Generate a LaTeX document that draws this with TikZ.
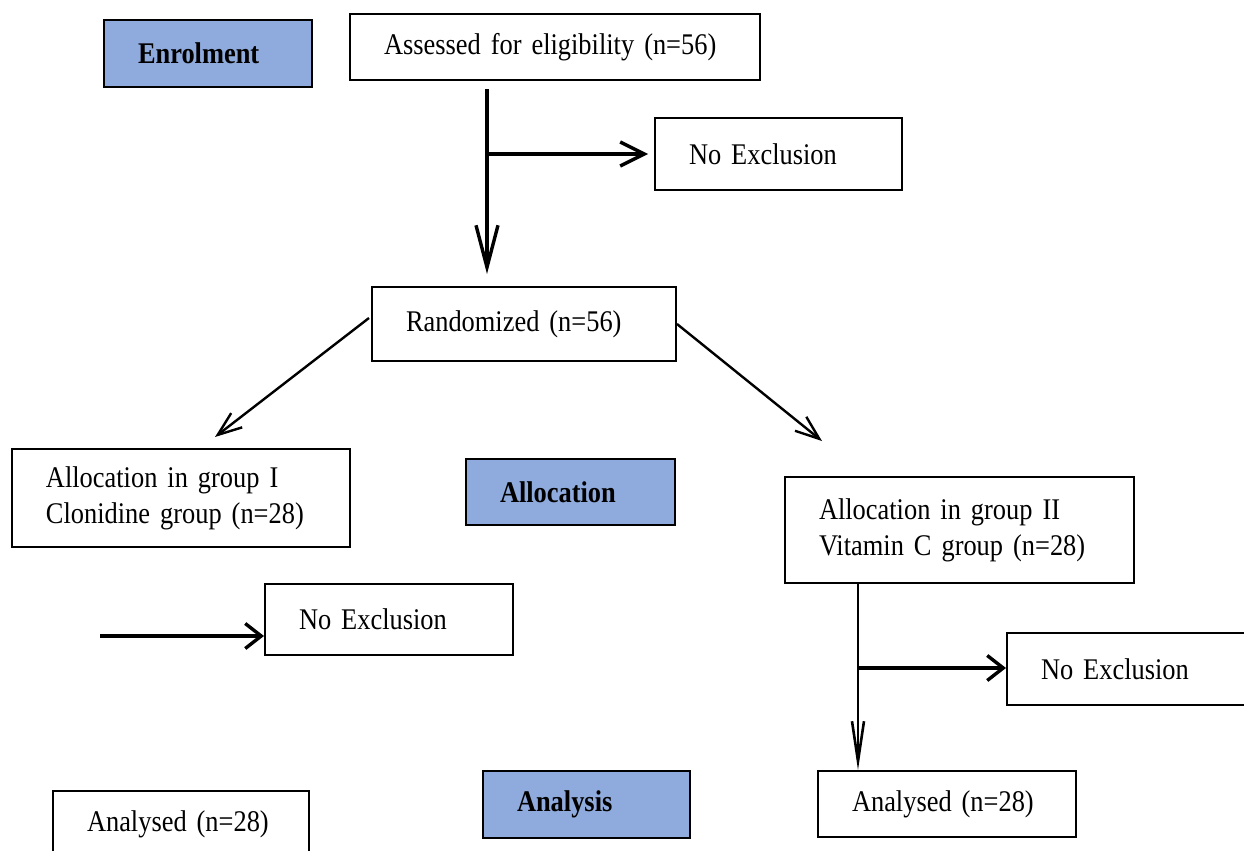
\documentclass[tikz,border=0pt]{standalone}
\usepackage{fontspec}
\setmainfont[FakeStretch=0.88, WordSpace=0.8]{Liberation Serif}
\usepackage{xcolor}
\usepackage{tikz}
\usetikzlibrary{arrows.meta, positioning, calc}
\definecolor{stage}{RGB}{143,170,220}
\tikzset{
    box/.style={rectangle, draw, line width=1pt, align=left, inner xsep=17pt, inner ysep=0pt, font=\fontsize{15}{18}\selectfont},
    phase/.style={box, fill=stage, font=\fontsize{15}{18}\selectfont\bfseries},
    flow/.style={-{Straight Barb[length=21pt, width=11pt]}, line width=1.7pt},
    branch/.style={-{Straight Barb[length=12pt, width=12pt]}, line width=1.7pt},
    split/.style={-{Straight Barb[length=12pt, width=9pt]}, line width=1.2pt}
}
\begin{document}
\begin{tikzpicture} [
    x=0.5pt, y=-0.5pt
]
    \useasboundingbox (0,0) rectangle (1244,851);

    % Enrolment
    \node[phase, text width=70pt, minimum height=33.5pt] (enrol) at (208,53.5) {Enrolment};
    \node[box, text width=171pt, minimum height=33pt] (assess) at (555,47) {Assessed for eligibility (n=56)};
    \node[box, text width=89.5pt, minimum height=36pt] (excl_top) at (778.5,154) {No Exclusion};

    % Randomization
    \node[box, text width=118pt, minimum height=37pt] (random) at (524,324) {Randomized (n=56)};

    % Allocation
    \node[box, text width=135pt, minimum height=49pt] (group_one) at (181,498) {Allocation in group I\\Clonidine group (n=28)};
    \node[phase, text width=70.5pt, minimum height=33pt] (alloc) at (570.5,492) {Allocation};
    \node[box, text width=140.5pt, minimum height=53pt] (group_two) at (959.5,530) {Allocation in group II\\Vitamin C group (n=28)};

    % Follow-up exclusions
    \node[box, text width=90pt, minimum height=35.5pt] (excl_one) at (389,619.5) {No Exclusion};
    \node[box, text width=89.5pt, minimum height=36pt] (excl_two) at (1130.5,669) {No Exclusion};

    % Analysis
    \node[box, text width=94pt, minimum height=33pt] (done_one) at (181,824) {Analysed (n=28)};
    \node[phase, text width=69.5pt, minimum height=33.5pt] (analysis) at (586.5,804.5) {Analysis};
    \node[box, text width=95pt, minimum height=33pt] (done_two) at (947,804) {Analysed (n=28)};

    % Free ends
    \coordinate (fork_top) at (487,154);
    \coordinate (fork_two) at (858,668);
    \coordinate (tip_one) at (215,437);
    \coordinate (tip_two) at (822,441);
    \coordinate (tail_one) at (100,636);

    % Flows
    \draw[flow, shorten <=4pt, shorten >=6pt] (fork_top |- assess.south) -- (fork_top |- random.north);
    \draw[branch, shorten >=3pt] (fork_top) -- (fork_top -| excl_top.west);
    \draw[split] ($(random.west)+(-2,-6)$) -- (tip_one);
    \draw[split] (random.east) -- (tip_two);
    \draw[branch, -{Straight Barb[length=8pt, width=12.5pt]}] (tail_one) -- (tail_one -| excl_one.west);
    \draw[flow, line width=1.3pt, -{Straight Barb[length=20pt, width=6pt]}] (fork_two |- group_two.south) -- (fork_two |- done_two.north);
    \draw[branch, -{Straight Barb[length=8pt, width=12.5pt]}] (fork_two) -- (fork_two -| excl_two.west);
\end{tikzpicture}
\end{document}
